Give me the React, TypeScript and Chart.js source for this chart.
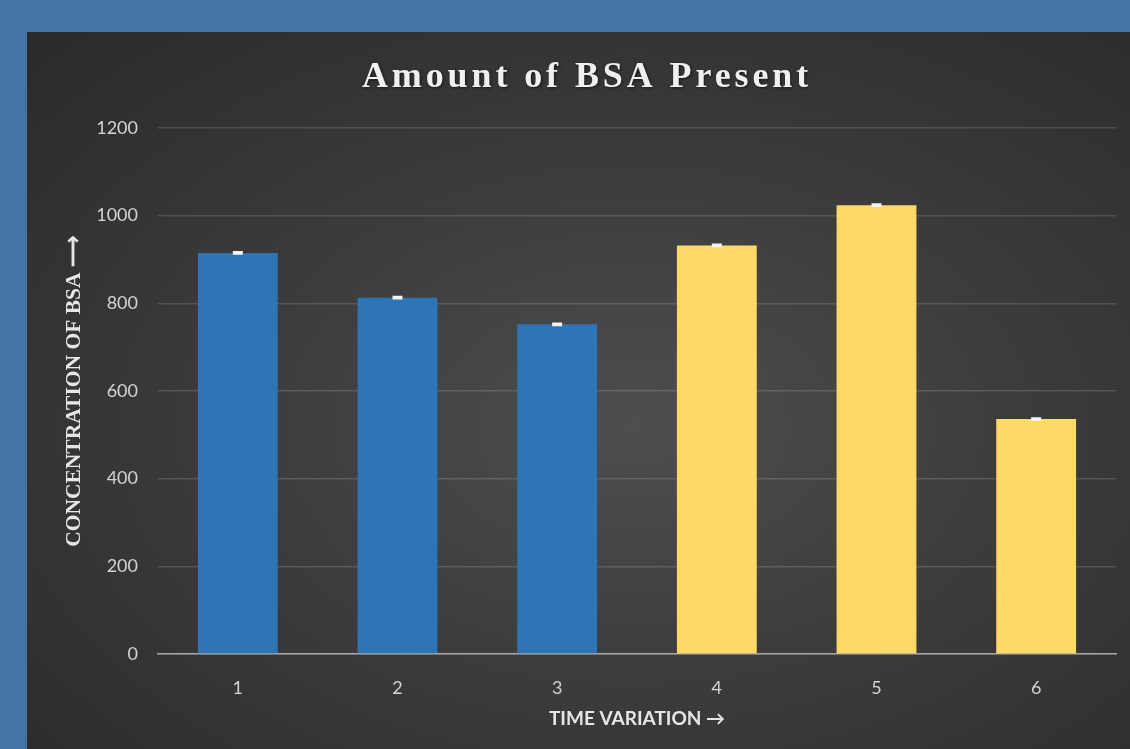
import React, { useEffect, useRef } from "react";
import { Chart, registerables } from "chart.js";

Chart.register(...registerables);

const titleText = "Amount of BSA Present";
const yAxisTitle = "CONCENTRATION OF BSA \u27F6";
const xAxisTitle = "TIME VARIATION \u2192";
const categories = ["1", "2", "3", "4", "5", "6"];
const bsaValues = [915, 813, 752, 932, 1024, 536];
const bsaErrors = [2, 2, 2, 2, 2, 2];
const yTicks = [0, 200, 400, 600, 800, 1000, 1200];

const BLUE = "#2e75b6";
const YELLOW = "#ffd966";
const barColors = [BLUE, BLUE, BLUE, YELLOW, YELLOW, YELLOW];

const errorBarPlugin = {
  id: "errorBars",
  afterDatasetsDraw(chart: any) {
    const { ctx } = chart;
    const meta = chart.getDatasetMeta(0);
    const y = chart.scales.y;
    ctx.save();
    ctx.strokeStyle = "#f4f4f4";
    ctx.lineWidth = 2;
    meta.data.forEach((bar: any, i: number) => {
      const v = bsaValues[i];
      const e = bsaErrors[i];
      const yTop = y.getPixelForValue(v + e);
      const yBot = y.getPixelForValue(v - e);
      const x = bar.x;
      ctx.beginPath();
      ctx.moveTo(x, yTop);
      ctx.lineTo(x, yBot);
      ctx.moveTo(x - 5, yTop);
      ctx.lineTo(x + 5, yTop);
      ctx.moveTo(x - 5, yBot);
      ctx.lineTo(x + 5, yBot);
      ctx.stroke();
    });
    ctx.restore();
  },
};

const titlePlugin = {
  id: "customTitle",
  afterDraw(chart: any) {
    const { ctx } = chart;
    ctx.save();
    ctx.font = 'bold 36px "Liberation Serif", "Times New Roman", serif';
    (ctx as any).letterSpacing = "3.9px";
    ctx.textAlign = "center";
    ctx.textBaseline = "middle";
    ctx.shadowColor = "rgba(0,0,0,0.6)";
    ctx.shadowBlur = 3;
    ctx.shadowOffsetX = 1;
    ctx.shadowOffsetY = 1;
    ctx.fillStyle = "#f0f0f0";
    ctx.fillText(titleText, 560, 46);
    ctx.restore();
  },
};

export default function App() {
  const canvasRef = useRef<HTMLCanvasElement | null>(null);

  useEffect(() => {
    document.body.style.margin = "0";
    const canvas = canvasRef.current;
    if (!canvas) return;
    const chart = new Chart(canvas, {
      type: "bar",
      data: {
        labels: categories,
        datasets: [
          {
            label: "BSA",
            data: bsaValues,
            backgroundColor: barColors,
            borderWidth: 0,
            barPercentage: 0.5,
            categoryPercentage: 1,
          },
        ],
      },
      options: {
        animation: false,
        responsive: false,
        maintainAspectRatio: false,
        layout: { padding: { top: 96, right: 14, bottom: 0, left: 0 } },
        plugins: {
          legend: { display: false },
          title: { display: false },
          tooltip: { enabled: false },
        },
        scales: {
          x: {
            afterFit: (s: any) => {
              s.height = 95;
            },
            grid: { display: false, drawTicks: false },
            border: { display: true, color: "#a8a8a8", width: 1.5 },
            ticks: {
              padding: 23,
              color: "#d4d4d4",
              font: { family: "Lato, 'Open Sans', sans-serif", size: 18 },
            },
            title: {
              display: true,
              text: xAxisTitle,
              color: "#e6e6e6",
              padding: { top: 0, bottom: 19 },
              font: { family: "Lato, 'Open Sans', sans-serif", size: 19, weight: "bold" },
            },
          },
          y: {
            min: 0,
            max: 1200,
            afterFit: (s: any) => {
              s.width = 131;
            },
            afterBuildTicks: (s: any) => {
              s.ticks = yTicks.map((v) => ({ value: v }));
            },
            grid: { color: "rgba(255,255,255,0.14)", lineWidth: 1.5, drawTicks: false },
            border: { display: false },
            ticks: {
              padding: 20,
              color: "#d4d4d4",
              font: { family: "Lato, 'Open Sans', sans-serif", size: 18 },
              callback: (v: any) => String(v),
            },
            title: {
              display: true,
              text: yAxisTitle,
              color: "#e6e6e6",
              padding: { top: 35, bottom: 0 },
              font: { family: "'Liberation Serif', 'Times New Roman', serif", size: 21.5, weight: "bold" },
            },
          },
        },
      },
      plugins: [errorBarPlugin, titlePlugin],
    });
    return () => chart.destroy();
  }, []);

  return (
    <div
      style={{
        position: "absolute",
        left: 0,
        top: 0,
        width: 1130,
        height: 749,
        background: "#4374a3",
        overflow: "hidden",
      }}
    >
      <div
        style={{
          position: "absolute",
          left: 27,
          top: 32,
          width: 1103,
          height: 717,
          background: "radial-gradient(ellipse at 55% 55%, #4e4e4e 0%, #3c3c3c 45%, #2a2a2a 100%)",
        }}
      >
        <canvas ref={canvasRef} width={1103} height={717} style={{ display: "block" }} />
      </div>
    </div>
  );
}
